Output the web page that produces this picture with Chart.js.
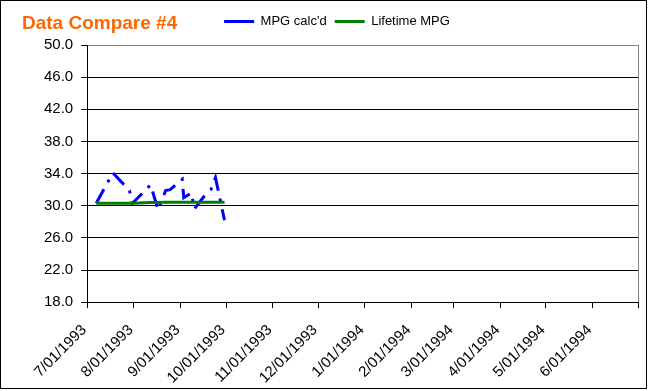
<!DOCTYPE html>
<html>
<head>
<meta charset="utf-8">
<title>Data Compare #4</title>
<script src="https://cdn.jsdelivr.net/npm/chart.js@4.4.1/dist/chart.umd.min.js"></script>
<style>
    html, body { margin: 0; padding: 0; background: #fff; }
    #chart { display: block; }
</style>
</head>
<body>
<canvas id="chart" width="648" height="391"></canvas>
<script>
const fillDates = [
    '7/07/1993', '7/18/1993', '7/29/1993', '7/31/1993', '8/12/1993', '8/17/1993',
    '8/22/1993', '8/25/1993', '9/02/1993', '9/03/1993', '9/08/1993', '9/10/1993',
    '9/17/1993', '9/21/1993', '9/24/1993', '9/30/1993'
];
const mpgCalcd = [30.3, 34.1, 31.9, 30.3, 32.6, 29.5, 31.9, 32.0, 33.3, 31.0, 31.6, 29.6, 31.3, 32.0, 33.5, 28.2];
const lifetimeMpg = [30.3, 30.3, 30.3, 30.3, 30.4, 30.4, 30.45, 30.45, 30.45, 30.45, 30.45, 30.45, 30.45, 30.45, 30.45, 30.45];

const tickLabels = [
    '7/01/1993', '8/01/1993', '9/01/1993', '10/01/1993', '11/01/1993', '12/01/1993',
    '1/01/1994', '2/01/1994', '3/01/1994', '4/01/1994', '5/01/1994', '6/01/1994'
];
const axisEnd = '7/01/1994';
const yTicks = [18, 22, 26, 30, 34, 38, 42, 46, 50];

const startDate = new Date(1993, 6, 1);

// days since 7/01/1993 for a "m/dd/yyyy" string
const dayOf = (text) => {
    const [m, d, y] = text.split('/').map(Number);
    return Math.round((new Date(y, m - 1, d) - startDate) / 86400000);
};

const tickDays = tickLabels.map(dayOf);
const toPoints = (values) => values.map((v, i) => ({ x: dayOf(fillDates[i]), y: v }));

Chart.defaults.font.family = '"Liberation Sans", Arial, sans-serif';
Chart.defaults.font.size = 13;
Chart.defaults.color = '#000';

// push the plot a little lower than the legend row
const legendGap = {
    id: 'legendGap',
    afterInit(chart) {
        const fit = chart.legend.fit;
        chart.legend.fit = function () {
            fit.call(this);
            this.height += 7;
        };
    }
};

const framePlugin = {
    id: 'frame',
    afterDraw(chart) {
        const { ctx, chartArea } = chart;
        const right = Math.round(chartArea.right) + 0.5;
        ctx.save();
        ctx.lineWidth = 1;
        ctx.strokeStyle = '#808080';
        ctx.beginPath();
        ctx.moveTo(right, chartArea.top);
        ctx.lineTo(right, chartArea.bottom);
        ctx.stroke();

        // closing tick of the date axis
        ctx.strokeStyle = '#000';
        ctx.beginPath();
        ctx.moveTo(right, chartArea.bottom);
        ctx.lineTo(right, chartArea.bottom + 6);
        ctx.stroke();

        ctx.strokeRect(0.5, 0.5, 646, 388);

        ctx.fillStyle = '#FF6600';
        ctx.font = 'bold 19px "Liberation Sans", Arial, sans-serif';
        ctx.textBaseline = 'alphabetic';
        ctx.fillText('Data Compare #4', 22, 29);
        ctx.restore();
    }
};

new Chart(document.getElementById('chart'), {
    type: 'line',
    data: {
        datasets: [{
            label: "MPG calc'd",
            data: toPoints(mpgCalcd),
            borderColor: '#0000FF',
            backgroundColor: '#0000FF',
            borderWidth: 3,
            borderDash: [16, 8, 3, 8],
            pointRadius: 0,
            tension: 0,
            order: 1
        }, {
            label: 'Lifetime MPG',
            data: toPoints(lifetimeMpg),
            borderColor: '#008000',
            backgroundColor: '#008000',
            borderWidth: 3,
            pointRadius: 0,
            tension: 0,
            order: 0
        }]
    },
    options: {
        responsive: false,
        animation: false,
        layout: {
            padding: { top: 7, left: 36, right: 10, bottom: 4 }
        },
        plugins: {
            title: { display: false },
            tooltip: { enabled: false },
            legend: {
                position: 'top',
                labels: {
                    usePointStyle: true,
                    pointStyle: 'line',
                    pointStyleWidth: 30,
                    boxWidth: 30,
                    padding: 8,
                    color: '#000',
                    font: { size: 13 },
                    sort: (a, b) => a.datasetIndex - b.datasetIndex
                }
            }
        },
        scales: {
            x: {
                type: 'linear',
                min: tickDays[0],
                max: dayOf(axisEnd),
                afterBuildTicks: (scale) => {
                    scale.ticks = tickDays.map((value) => ({ value }));
                },
                afterFit: (scale) => {
                    scale.height -= scale.options.ticks.padding;
                },
                ticks: {
                    autoSkip: false,
                    maxRotation: 45,
                    minRotation: 45,
                    padding: 13,
                    labelOffset: -3,
                    font: { size: 15 },
                    callback: (value, index) => tickLabels[index]
                },
                grid: {
                    drawOnChartArea: false,
                    drawTicks: true,
                    tickLength: 6,
                    color: '#000'
                },
                border: { color: '#000', width: 1 }
            },
            y: {
                min: yTicks[0],
                max: yTicks[yTicks.length - 1],
                afterBuildTicks: (scale) => {
                    scale.ticks = yTicks.map((value) => ({ value }));
                },
                ticks: {
                    padding: 8,
                    font: { size: 15 },
                    callback: (value) => Number(value).toFixed(1)
                },
                grid: {
                    color: (ctx) => (ctx.tick && ctx.tick.value === 50 ? '#808080' : '#000'),
                    tickColor: '#000',
                    tickLength: 6
                },
                border: { color: '#000', width: 1 }
            }
        }
    },
    plugins: [legendGap, framePlugin]
});
</script>
</body>
</html>
